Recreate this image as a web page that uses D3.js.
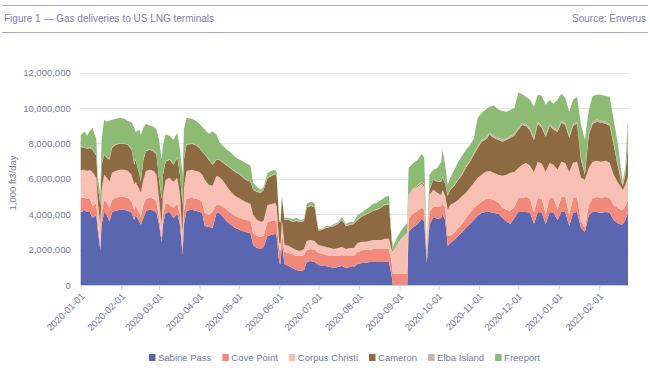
<!DOCTYPE html>
<html><head><meta charset="utf-8">
<script src="https://cdn.jsdelivr.net/npm/d3@7"></script>
<style>
body{margin:0;background:#fff;}
svg{display:block;font-family:"Liberation Sans",Arial,Helvetica,sans-serif;}
</style>
</head><body>
<svg id="chart" width="650" height="372"></svg>
<script>
// ---- DATA (values in million x 1,000 ft3/day) ----
const dates = [
"2020-01-01","2020-01-04","2020-01-06","2020-01-08","2020-01-10","2020-01-13","2020-01-14","2020-01-16","2020-01-17","2020-01-19",
"2020-01-21","2020-01-23","2020-01-25","2020-01-28","2020-01-31","2020-02-03","2020-02-06","2020-02-09","2020-02-11","2020-02-12",
"2020-02-15","2020-02-16","2020-02-18","2020-02-20","2020-02-23","2020-02-26","2020-02-28","2020-03-01","2020-03-03","2020-03-04",
"2020-03-06","2020-03-09","2020-03-12","2020-03-15","2020-03-17","2020-03-19","2020-03-20","2020-03-22","2020-03-26","2020-03-29",
"2020-04-01","2020-04-03","2020-04-05","2020-04-08","2020-04-11","2020-04-14","2020-04-16","2020-04-19","2020-04-22","2020-04-25",
"2020-04-28","2020-05-02","2020-05-06","2020-05-10","2020-05-12","2020-05-15","2020-05-18","2020-05-20","2020-05-23","2020-05-26",
"2020-05-29","2020-05-30","2020-06-01","2020-06-02","2020-06-03","2020-06-05","2020-06-08","2020-06-11","2020-06-14","2020-06-17",
"2020-06-20","2020-06-22","2020-06-25","2020-06-28","2020-07-01","2020-07-04","2020-07-07","2020-07-10","2020-07-13","2020-07-16",
"2020-07-19","2020-07-22","2020-07-25","2020-07-28","2020-07-31","2020-08-03","2020-08-06","2020-08-09","2020-08-12","2020-08-15",
"2020-08-18","2020-08-21","2020-08-24","2020-08-26","2020-08-27","2020-08-30","2020-09-02","2020-09-05","2020-09-07","2020-09-08",
"2020-09-11","2020-09-15","2020-09-18","2020-09-20","2020-09-22","2020-09-24","2020-09-27","2020-09-30","2020-10-03","2020-10-04",
"2020-10-06","2020-10-08","2020-10-10","2020-10-13","2020-10-16","2020-10-19","2020-10-22","2020-10-25","2020-10-28","2020-10-31",
"2020-11-03","2020-11-06","2020-11-09","2020-11-12","2020-11-16","2020-11-19","2020-11-22","2020-11-25","2020-11-28","2020-12-01",
"2020-12-04","2020-12-07","2020-12-10","2020-12-13","2020-12-16","2020-12-19","2020-12-22","2020-12-25","2020-12-28","2020-12-31",
"2021-01-03","2021-01-06","2021-01-09","2021-01-12","2021-01-15","2021-01-18","2021-01-21","2021-01-24","2021-01-27","2021-01-30",
"2021-02-02","2021-02-06","2021-02-09","2021-02-12","2021-02-15","2021-02-18","2021-02-19","2021-02-21","2021-02-23"
];
const sabinePass = [
4.13,4.19,4.13,4.13,3.79,3.96,3.11,1.98,3.40,4.13,
3.96,3.57,4.13,4.19,4.25,4.25,4.19,4.08,3.68,3.96,
3.57,3.40,3.79,4.19,4.25,4.19,4.08,3.40,2.43,3.40,
4.08,4.13,3.79,4.02,3.40,1.70,3.40,4.19,4.25,4.19,
4.13,4.08,3.34,3.28,3.23,4.08,4.08,3.85,3.57,3.40,
3.23,3.11,3.00,2.94,2.26,2.09,2.04,2.15,2.77,2.83,
2.89,2.77,1.25,1.19,2.38,1.19,1.08,0.96,0.85,0.79,
0.85,1.30,1.36,1.30,1.13,1.08,1.08,1.02,0.96,1.02,
1.08,0.96,1.02,1.02,1.19,1.25,1.25,1.30,1.30,1.30,
1.30,1.30,1.30,0.57,0,0,0,0,0,3.00,
3.23,3.45,3.74,3.57,1.25,3.40,3.85,3.74,3.79,4.02,
3.68,2.21,2.38,2.55,2.77,3.00,3.23,3.45,3.68,3.91,
4.08,4.13,4.13,4.08,4.02,3.79,3.57,3.45,3.79,4.13,
4.13,4.13,4.08,3.45,4.13,4.08,3.45,4.13,4.08,3.68,
4.13,4.13,3.34,4.08,4.13,3.23,3.00,3.96,4.13,4.13,
4.08,4.13,4.08,3.68,3.51,3.40,3.45,3.68,4.08
];
const covePoint = [
0.79,0.74,0.74,0.79,0.68,0.68,0.45,0.28,0.68,0.68,
0.68,0.79,0.68,0.74,0.74,0.74,0.74,0.62,0.57,0.57,
0.45,0.45,0.74,0.68,0.68,0.68,0.62,0.40,0.23,0.57,
0.57,0.40,0.57,0.57,0.57,0.28,0.74,0.68,0.68,0.68,
0.68,0.57,0.74,0.68,0.91,0.45,0.45,0.57,0.68,0.68,
0.68,0.68,0.68,0.68,0.68,0.68,0.68,0.62,0.79,0.79,
0.79,0.79,0.74,0.74,0.62,0.68,0.74,0.79,0.79,0.85,
0.85,0.68,0.68,0.68,0.68,0.68,0.62,0.62,0.68,0.62,
0.62,0.68,0.62,0.62,0.68,0.68,0.74,0.68,0.74,0.74,
0.74,0.74,0.74,0.74,0.62,0.62,0.62,0.62,0.62,0.74,
0.79,0.74,0.62,0.68,0.28,0.74,0.57,0.68,0.68,0.57,
0.68,0.57,0.40,0.40,0.45,0.45,0.57,0.62,0.68,0.62,
0.62,0.74,0.74,0.74,0.62,0.57,0.68,0.74,0.62,0.79,
0.79,0.85,0.79,0.68,0.79,0.79,0.57,0.79,0.85,0.57,
0.85,0.85,0.62,0.85,0.85,0.34,0.23,0.57,0.79,0.85,
0.85,0.85,0.85,0.85,0.85,0.85,0.79,0.79,0.74
];
const corpusChristi = [
1.58,1.58,1.58,1.58,1.92,1.42,1.25,1.13,1.30,1.42,
1.42,1.47,1.53,1.53,1.53,1.53,1.53,1.53,1.42,1.30,
1.36,1.36,1.42,1.58,1.58,1.58,1.53,1.02,0.74,1.13,
1.30,1.53,1.47,1.47,1.13,0.85,1.36,1.58,1.58,1.58,
1.58,1.58,1.87,1.70,1.47,1.64,1.58,1.47,1.30,1.19,
1.13,1.08,1.02,0.96,1.02,0.91,0.85,0.85,0.96,0.96,
0.96,0.91,0.40,0.40,0.68,0.40,0.40,0.34,0.34,0.28,
0.34,0.51,0.51,0.51,0.45,0.45,0.45,0.45,0.40,0.45,
0.45,0.40,0.45,0.45,0.51,0.51,0.45,0.51,0.51,0.51,
0.51,0.57,0.57,0.68,1.25,1.58,1.92,2.15,2.32,1.30,
1.36,1.36,1.36,1.30,0.17,0.96,0.96,0.79,0.62,0.79,
0.68,1.47,1.75,1.70,1.58,1.58,1.42,1.42,1.42,1.53,
1.53,1.53,1.58,1.53,1.58,1.81,1.98,2.15,1.98,1.70,
1.87,1.92,1.87,2.26,2.04,1.98,2.38,1.98,1.87,2.26,
1.98,1.92,2.43,1.98,1.98,2.49,2.72,2.09,2.04,2.04,
2.04,2.04,1.98,1.70,1.47,1.25,1.13,1.19,1.30
];
const cameron = [
1.30,1.25,1.25,1.25,1.25,1.25,0.85,1.13,1.42,1.13,
1.13,1.25,1.42,1.47,1.47,1.47,1.47,1.42,1.13,1.25,
0.85,0.62,1.13,1.13,1.13,1.08,1.13,1.13,1.42,1.13,
1.02,1.02,0.96,1.13,1.13,1.70,1.58,1.47,1.47,1.47,
1.36,1.30,1.42,1.42,1.19,0.91,0.96,1.02,1.19,1.30,
1.36,1.36,1.25,1.25,1.42,1.58,1.64,1.75,1.53,1.58,
1.64,1.64,1.19,1.19,1.25,1.42,1.47,1.47,1.64,1.64,
1.58,1.87,1.92,1.92,0.79,0.91,1.08,1.19,1.30,1.36,
1.53,1.30,1.30,1.36,1.30,1.42,1.53,1.58,1.64,1.70,
1.81,1.92,1.92,0.57,0,0,0,0,0,0,
0,0.06,0.06,0.11,0.06,0.28,0.57,0.62,0.74,0.68,
0.68,0.79,0.85,0.96,1.13,1.19,1.42,1.47,1.58,1.70,
1.87,1.81,2.04,1.98,1.98,1.92,1.98,1.98,2.04,2.15,
2.26,2.09,1.98,1.81,2.15,2.04,1.98,2.09,1.98,2.15,
2.21,2.15,1.92,2.09,2.15,1.02,0.28,1.87,2.15,2.21,
2.21,2.09,2.09,1.70,0.96,0.28,0.23,0.57,1.81
];
const elbaIsland = [
0.04,0.04,0.04,0.04,0.04,0.04,0.04,0.04,0.04,0.04,
0.04,0.04,0.04,0.04,0.04,0.04,0.04,0.04,0.04,0.04,
0.04,0.04,0.04,0.04,0.04,0.04,0.04,0.04,0.04,0.04,
0.04,0.04,0.04,0.04,0.04,0.04,0.04,0.04,0.04,0.04,
0.04,0.04,0.04,0.04,0.04,0.04,0.04,0.04,0.04,0.04,
0.04,0.04,0.04,0.04,0.04,0.04,0.04,0.04,0.04,0.04,
0.04,0.04,0.04,0.04,0.04,0.04,0.04,0.04,0.04,0.04,
0.04,0.04,0.04,0.04,0.04,0.04,0.04,0.04,0.04,0.04,
0.04,0.04,0.04,0.04,0.04,0.04,0.04,0.04,0.04,0.04,
0.04,0.04,0.04,0.04,0.04,0.04,0.04,0.04,0.04,0.04,
0.04,0.04,0.04,0.04,0.04,0.04,0.04,0.04,0.04,0.04,
0.04,0.04,0.04,0.04,0.04,0.08,0.08,0.08,0.08,0.12,
0.12,0.12,0.12,0.12,0.12,0.12,0.12,0.12,0.12,0.12,
0.12,0.12,0.12,0.12,0.12,0.12,0.12,0.12,0.12,0.12,
0.12,0.12,0.12,0.12,0.12,0.12,0.12,0.12,0.12,0.12,
0.12,0.12,0.12,0.12,0.12,0.12,0.12,0.12,0.12
];
const freeport = [
0.64,0.87,0.70,0.92,1.21,0.87,0.53,0.53,1.38,1.94,
2.00,2.17,1.54,1.43,1.43,1.38,1.32,1.49,2.05,1.54,
2.51,2.62,1.77,1.49,1.32,1.38,1.38,2.22,2.22,1.66,
1.49,1.32,1.38,1.38,1.38,1.66,1.66,1.49,1.38,1.32,
1.32,1.38,1.38,1.43,1.83,1.38,0.98,0.92,0.87,0.87,
0.81,0.81,0.92,0.87,0.36,0.24,0.13,0.13,0.24,0.24,
0.19,0.24,0.07,0.07,0.07,0.07,0.07,0.13,0.13,0.07,
0.07,0.19,0.19,0.19,0.07,0.02,0.07,0.02,0.07,0.07,
0.13,0.07,0.13,0.07,0.24,0.19,0.24,0.30,0.36,0.36,
0.41,0.41,0.47,0.24,0.24,0.41,0.47,0.53,0.53,1.54,
1.43,1.43,1.60,1.49,0.19,0.81,0.53,0.75,1.09,1.54,
1.04,0.58,0.64,0.87,0.98,1.00,0.92,0.86,0.86,1.58,
1.52,1.58,1.46,1.69,1.58,1.63,1.46,1.46,1.46,1.97,
1.63,1.52,1.63,1.75,1.52,1.69,1.69,1.35,1.35,1.69,
1.52,1.41,1.35,1.35,1.41,1.86,1.86,1.30,1.46,1.41,
1.46,1.46,1.52,1.30,1.18,0.45,0.11,0.33,1.30
];
const seriesNames = ["Sabine Pass","Cove Point","Corpus Christi","Cameron","Elba Island","Freeport"];
const seriesColors = ["#5a67b0","#f28a7c","#f8bfb5","#8d6a42","#c8b6a2","#8dbb73"];
const yTickValues = [0,2000000,4000000,6000000,8000000,10000000,12000000];
const xTickLabels = ["2020-01-01","2020-02-01","2020-03-01","2020-04-01","2020-05-01","2020-06-01","2020-07-01",
  "2020-08-01","2020-09-01","2020-10-01","2020-11-01","2020-12-01","2021-01-01","2021-02-01"];
const titleText = "Figure 1 \u2014 Gas deliveries to US LNG terminals";
const sourceText = "Source: Enverus";
const yAxisTitle = "1,000 ft3/day";
const UNIT = 1e6;

// ---- BUILD ----
const parse = d3.utcParse("%Y-%m-%d");
const seriesArrays = [sabinePass, covePoint, corpusChristi, cameron, elbaIsland, freeport];
const rows = dates.map((d, i) => {
  const r = {date: parse(d)};
  seriesNames.forEach((n, k) => r[n] = seriesArrays[k][i] * UNIT);
  return r;
});
const stacked = d3.stack().keys(seriesNames)(rows);

const svg = d3.select("#chart");
const textColor = "#7478ab";
const plot = {left: 80.7, right: 628, top: 72.7, bottom: 285};

const x = d3.scaleUtc().domain([parse("2020-01-01"), parse("2021-02-23")]).range([plot.left, plot.right]);
const y = d3.scaleLinear().domain([0, 12000000]).range([plot.bottom, plot.top]);

// header
svg.append("line").attr("x1", 2).attr("x2", 648).attr("y1", 5.5).attr("y2", 5.5)
  .attr("stroke", "#a9abca").attr("stroke-width", 1.2);
svg.append("line").attr("x1", 2).attr("x2", 648).attr("y1", 32.5).attr("y2", 32.5)
  .attr("stroke", "#a9abca").attr("stroke-width", 1.2);
svg.append("text").attr("x", 4).attr("y", 21.5).attr("font-size", 10).attr("fill", "#7c80b2").text(titleText);
svg.append("text").attr("x", 646).attr("y", 21.5).attr("font-size", 10).attr("fill", "#7c80b2")
  .attr("text-anchor", "end").text(sourceText);

// gridlines
svg.append("g").selectAll("line").data(yTickValues.filter(v => v > 0)).join("line")
  .attr("x1", plot.left - 1).attr("x2", plot.right + 1)
  .attr("y1", d => Math.round(y(d)) + 0.5).attr("y2", d => Math.round(y(d)) + 0.5)
  .attr("stroke", "#e4e4ee").attr("stroke-width", 1);

// areas
const area = d3.area().x(d => x(d.data.date)).y0(d => y(d[0])).y1(d => y(d[1])).curve(d3.curveLinear);
svg.append("g").selectAll("path").data(stacked).join("path")
  .attr("d", area).attr("fill", (d, i) => seriesColors[i]);

// y axis
const yAxis = svg.append("g").attr("transform", `translate(${plot.left},0)`)
  .call(d3.axisLeft(y).tickValues(yTickValues).tickFormat(d3.format(",")).tickSize(0).tickPadding(10));
yAxis.select(".domain").remove();
yAxis.selectAll("text").attr("font-size", 9.5).attr("fill", textColor).attr("font-family", null);

svg.append("text").attr("transform", `translate(16,183) rotate(-90)`).attr("text-anchor", "middle")
  .attr("font-size", 9.5).attr("fill", textColor).text(yAxisTitle);

// x axis
const xAxis = svg.append("g").attr("transform", `translate(0,${plot.bottom})`)
  .call(d3.axisBottom(x).tickValues(xTickLabels.map(parse)).tickFormat(d3.utcFormat("%Y-%m-%d")).tickSize(5).tickSizeOuter(0));
xAxis.select(".domain").attr("stroke", "#c9cbe0").attr("stroke-width", 1.2);
xAxis.selectAll(".tick line").attr("stroke", "#c9cbe0");
xAxis.selectAll("text").attr("font-size", 9.5).attr("fill", textColor).attr("font-family", null)
  .attr("text-anchor", "end").attr("x", 0).attr("y", 0).attr("dy", 0)
  .attr("transform", "translate(4,12) rotate(-45)");

// legend
const legend = svg.append("g").attr("font-size", 9.5);
let lx = 149;
seriesNames.forEach((n, i) => {
  const g = legend.append("g").attr("transform", `translate(${lx},0)`);
  g.append("rect").attr("x", 0).attr("y", 354).attr("width", 6.5).attr("height", 7).attr("fill", seriesColors[i]);
  const t = g.append("text").attr("x", 9).attr("y", 361).attr("fill", textColor).text(n);
  lx += 9 + t.node().getComputedTextLength() + 11;
});
</script>
</body></html>
